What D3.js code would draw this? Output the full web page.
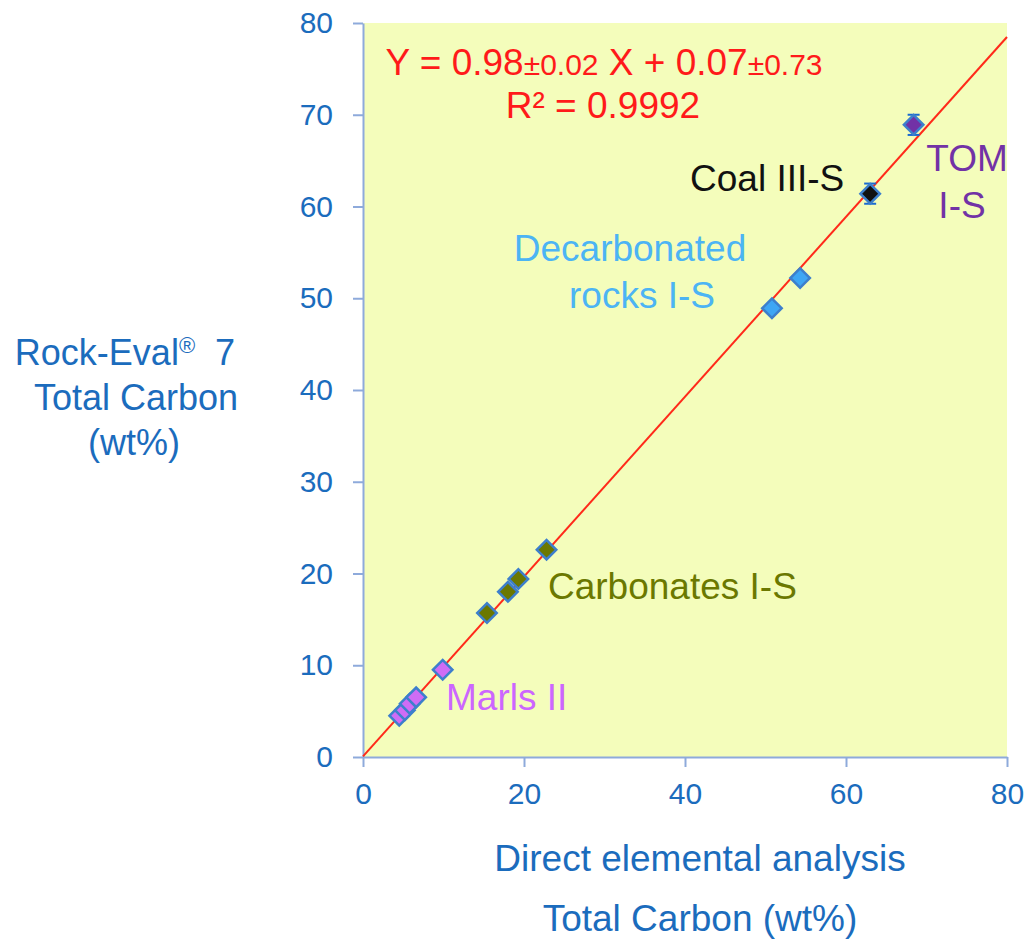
<!DOCTYPE html>
<html>
<head>
<meta charset="utf-8">
<script src="https://cdn.jsdelivr.net/npm/d3@7"></script>
<style>
  body { margin: 0; background: #fff; }
  svg text { font-family: "Liberation Sans", Arial, sans-serif; }
</style>
</head>
<body>
<div id="chart"></div>
<script>
// data (x = elemental analysis, y = Rock-Eval 7)
var marls = [[4.5, 4.5], [5.2, 5.1], [5.8, 5.8], [6.6, 6.5], [9.9, 9.5]];
var carbonates = [[15.4, 15.7], [18.0, 18.0], [19.3, 19.4], [22.8, 22.6]];
var decarbonated = [[50.8, 48.9], [54.3, 52.2]];
var coal = [[63.0, 61.4]];
var tom = [[68.4, 68.9]];
var errBars = [[63.0, 61.4, 1.1], [68.4, 68.9, 1.1]];
var fit = { slope: 0.98, intercept: 0.07 };
var yTicks = [0, 10, 20, 30, 40, 50, 60, 70, 80];
var xTicks = [0, 20, 40, 60, 80];

var W = 1031, H = 944;
var mLeft = 363, mRight = 1007, mTop = 23, mBottom = 757;

var svg = d3.select("#chart").append("svg")
    .attr("width", W)
    .attr("height", H);

var x = d3.scaleLinear().domain([0, 80]).range([mLeft, mRight]);
var y = d3.scaleLinear().domain([0, 80]).range([mBottom, mTop]);

// plot background
svg.append("rect")
    .attr("x", mLeft).attr("y", mTop)
    .attr("width", mRight - mLeft).attr("height", mBottom - mTop)
    .attr("fill", "#f4fdbb");

var axisCol = "#8eaadb", tickCol = "#1b6cbd";

var gx = svg.append("g")
    .attr("transform", "translate(0," + mBottom + ")")
    .call(d3.axisBottom(x).tickValues(xTicks).tickSize(10).tickPadding(16).tickSizeOuter(0));
var gy = svg.append("g")
    .attr("transform", "translate(" + mLeft + ",0)")
    .call(d3.axisLeft(y).tickValues(yTicks).tickSize(10).tickPadding(20).tickSizeOuter(0));

[gx, gy].forEach(function(g) {
  g.select(".domain").attr("stroke", axisCol).attr("stroke-width", 2);
  g.selectAll(".tick line").attr("stroke", axisCol).attr("stroke-width", 2);
  g.selectAll(".tick text")
    .attr("fill", tickCol)
    .style("font-size", "30px")
    .style("font-family", "Liberation Sans, Arial, sans-serif");
});

// regression line
svg.append("line")
    .attr("x1", x(0)).attr("y1", y(fit.intercept))
    .attr("x2", x(80)).attr("y2", y(fit.slope * 80 + fit.intercept))
    .attr("stroke", "#ff2a1a").attr("stroke-width", 2);

// error bars
var eb = svg.append("g").attr("stroke", "#1a6bd0").attr("stroke-width", 2);
errBars.forEach(function(d) {
  eb.append("line").attr("x1", x(d[0])).attr("x2", x(d[0]))
    .attr("y1", y(d[1] - d[2])).attr("y2", y(d[1] + d[2]));
  [d[1] - d[2], d[1] + d[2]].forEach(function(v) {
    eb.append("line").attr("x1", x(d[0]) - 6).attr("x2", x(d[0]) + 6)
      .attr("y1", y(v)).attr("y2", y(v));
  });
});

function diamonds(data, fill) {
  svg.append("g").selectAll("path")
    .data(data)
    .enter().append("path")
    .attr("d", d3.symbol().type(d3.symbolSquare).size(190))
    .attr("transform", function(d) {
      return "translate(" + x(d[0]) + "," + y(d[1]) + ") rotate(45)";
    })
    .attr("fill", fill)
    .attr("stroke", "#3d7fcc")
    .attr("stroke-width", 2.5);
}
diamonds(marls, "#cf6cf5");
diamonds(carbonates, "#6b7800");
diamonds(decarbonated, "#3ea6f4");
diamonds(coal, "#111111");
diamonds(tom, "#7232a6");

// equation
var eq = svg.append("text").attr("x", 604).attr("y", 75)
    .attr("text-anchor", "middle").attr("fill", "#ff1a1a").style("font-size", "37px");
eq.append("tspan").text("Y = 0.98");
eq.append("tspan").text("±0.02").style("font-size", "30px");
eq.append("tspan").text(" X + 0.07");
eq.append("tspan").text("±0.73").style("font-size", "30px");
svg.append("text").attr("x", 603).attr("y", 118)
    .attr("text-anchor", "middle").attr("fill", "#ff1a1a").style("font-size", "37px")
    .text("R² = 0.9992");

// series labels
function label(txt, px, py, col, anchor) {
  svg.append("text").attr("x", px).attr("y", py)
    .attr("text-anchor", anchor || "start")
    .attr("fill", col).style("font-size", "37px")
    .text(txt);
}
label("Coal III-S", 690, 191, "#111111");
label("TOM", 967, 171, "#7232a6", "middle");
label("I-S", 962, 218, "#7232a6", "middle");
label("Decarbonated", 630, 261, "#4cb4f4", "middle");
label("rocks I-S", 642, 308, "#4cb4f4", "middle");
label("Carbonates I-S", 548, 599, "#6b7800");
label("Marls II", 446, 710, "#cc66ff");

// axis titles
var yt = svg.append("text").attr("text-anchor", "middle").attr("fill", "#1b6cbd").style("font-size", "36px");
var l1 = yt.append("tspan").attr("x", 125).attr("y", 365);
l1.append("tspan").text("Rock-Eval");
l1.append("tspan").text("®").style("font-size", "22px").attr("dy", -12);
l1.append("tspan").text("  7").attr("dy", 12).style("white-space", "pre");
yt.append("tspan").attr("x", 136).attr("y", 410).text("Total Carbon");
yt.append("tspan").attr("x", 134).attr("y", 455).text("(wt%)");

svg.append("text").attr("x", 700).attr("y", 871).attr("text-anchor", "middle")
    .attr("fill", "#1b6cbd").style("font-size", "37px").text("Direct elemental analysis");
svg.append("text").attr("x", 700).attr("y", 931).attr("text-anchor", "middle")
    .attr("fill", "#1b6cbd").style("font-size", "37px").text("Total Carbon (wt%)");
</script>
</body>
</html>
